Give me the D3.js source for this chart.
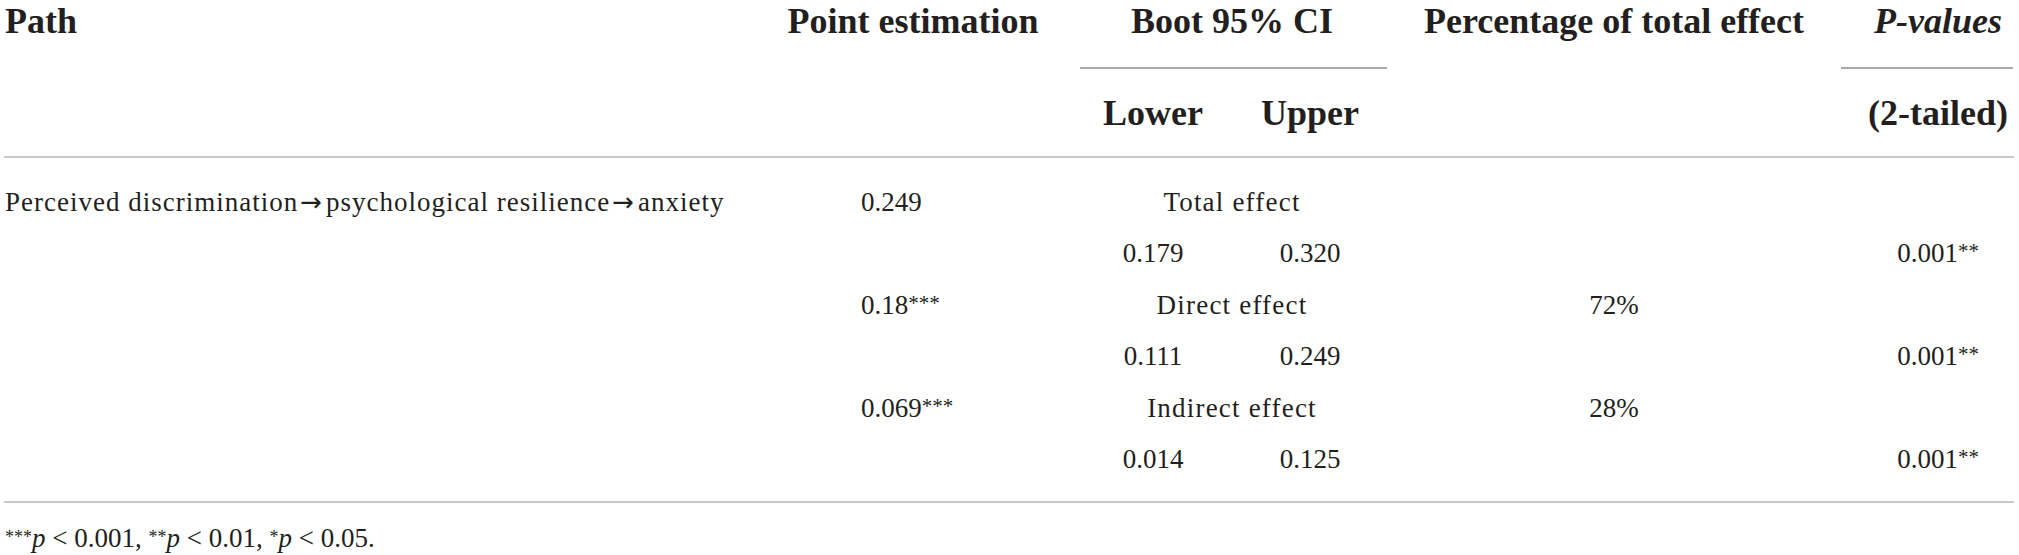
<!DOCTYPE html>
<html>
<head>
<meta charset="utf-8">
<script src="https://cdn.jsdelivr.net/npm/d3@7"></script>
<style>
  html, body { margin: 0; padding: 0; background: #fff; }
  svg { display: block; }
</style>
</head>
<body>
<div id="table-placeholder"></div>
<script>
'use strict'

// ---- table content ----
const pathSteps = ['Perceived discrimination', 'psychological resilience', 'anxiety']
const effects = ['Total effect', 'Direct effect', 'Indirect effect']
const pointEst = ['0.249', '0.18', '0.069']
const pointStars = ['', '***', '***']
const ciLower = ['0.179', '0.111', '0.014']
const ciUpper = ['0.320', '0.249', '0.125']
const pctTotal = ['', '72%', '28%']
const pValues = ['0.001', '0.001', '0.001']
const pStars = ['**', '**', '**']

const headTop = ['Path', 'Point estimation', 'Boot 95% CI', 'Percentage of total effect', 'P-values']
const headSub = ['Lower', 'Upper', '(2-tailed)']
const footNotes = [['***', '0.001'], ['**', '0.01'], ['*', '0.05']]

////////////////////////////////////
//////////// svg setup /////////////
////////////////////////////////////

const svgWidth = 2019
const svgHeight = 555
const ink = '#231f20'
const serif = '"Liberation Serif", "Times New Roman", serif'

const svg = d3.select('#table-placeholder').append('svg')
    .attr('width', svgWidth)
    .attr('height', svgHeight)
    .attr('viewBox', `0 0 ${svgWidth} ${svgHeight}`)

// column anchors (x)
const col = d3.scaleOrdinal()
    .domain(['path', 'pointHead', 'point', 'boot', 'lower', 'upper', 'pct', 'p'])
    .range([5, 913, 861, 1232, 1153, 1310, 1614, 1938])

// body lines: two per effect
const rowY = d3.scaleLinear().domain([0, 5]).range([211, 468])

// ---- rules ----
const rules = [
    {x1: 4, x2: 2014, y: 157, c: '#c8c8c8', w: 2},
    {x1: 4, x2: 2014, y: 502, c: '#c8c8c8', w: 2},
    {x1: 1080, x2: 1387, y: 68, c: '#8c8c8c', w: 1.5},
    {x1: 1841, x2: 2013, y: 68, c: '#8c8c8c', w: 1.5}
]
svg.selectAll('line.rule').data(rules).join('line')
    .attr('class', 'rule')
    .attr('x1', d => d.x1).attr('x2', d => d.x2)
    .attr('y1', d => d.y).attr('y2', d => d.y)
    .attr('stroke', d => d.c).attr('stroke-width', d => d.w)

// ---- header ----
const head = svg.append('g')
    .attr('font-family', serif)
    .attr('font-weight', 'bold')
    .attr('font-size', 36)
    .attr('fill', ink)

const topKeys = ['path', 'pointHead', 'boot', 'pct', 'p']
head.selectAll('text.top').data(headTop).join('text')
    .attr('class', 'top')
    .attr('x', (d, i) => col(topKeys[i]))
    .attr('y', 33)
    .attr('text-anchor', (d, i) => i === 0 ? 'start' : 'middle')
    .attr('font-style', (d, i) => i === 4 ? 'italic' : null)
    .text(d => d)

const subKeys = ['lower', 'upper', 'p']
head.selectAll('text.sub').data(headSub).join('text')
    .attr('class', 'sub')
    .attr('x', (d, i) => col(subKeys[i]))
    .attr('y', 125)
    .attr('text-anchor', 'middle')
    .text(d => d)

// ---- body ----
const body = svg.append('g')
    .attr('font-family', serif)
    .attr('font-size', 27)
    .attr('fill', ink)

const pathText = body.append('text')
    .attr('x', col('path'))
    .attr('y', rowY(0))
    .attr('letter-spacing', 1)

pathSteps.forEach((s, i) => {
    if (i > 0) {
        pathText.append('tspan')
            .attr('font-family', '"DejaVu Sans", sans-serif')
            .attr('font-size', 26)
            .attr('dx', 2)
            .attr('letter-spacing', 4)
            .text('\u2192')
    }
    pathText.append('tspan').text(s)
})

const withStars = (sel, stars) => {
    sel.append('tspan').text(d => d.v)
    sel.append('tspan')
        .attr('dy', -4)
        .attr('font-size', 21)
        .text(d => stars[d.i])
}

const eff = effects.map((e, i) => ({i, e}))

// effect label rows
body.selectAll('text.eff').data(eff).join('text')
    .attr('class', 'eff')
    .attr('x', col('boot'))
    .attr('y', d => rowY(d.i * 2))
    .attr('text-anchor', 'middle')
    .attr('letter-spacing', 1.2)
    .text(d => d.e)

body.selectAll('text.pt').data(pointEst.map((v, i) => ({i, v}))).join('text')
    .attr('class', 'pt')
    .attr('x', col('point'))
    .attr('y', d => rowY(d.i * 2))
    .call(withStars, pointStars)

body.selectAll('text.pct').data(pctTotal.map((v, i) => ({i, v}))).join('text')
    .attr('class', 'pct')
    .attr('x', col('pct'))
    .attr('y', d => rowY(d.i * 2))
    .attr('text-anchor', 'middle')
    .text(d => d.v)

// interval rows
body.selectAll('text.lo').data(ciLower.map((v, i) => ({i, v}))).join('text')
    .attr('class', 'lo')
    .attr('x', col('lower'))
    .attr('y', d => rowY(d.i * 2 + 1))
    .attr('text-anchor', 'middle')
    .text(d => d.v)

body.selectAll('text.up').data(ciUpper.map((v, i) => ({i, v}))).join('text')
    .attr('class', 'up')
    .attr('x', col('upper'))
    .attr('y', d => rowY(d.i * 2 + 1))
    .attr('text-anchor', 'middle')
    .text(d => d.v)

body.selectAll('text.pv').data(pValues.map((v, i) => ({i, v}))).join('text')
    .attr('class', 'pv')
    .attr('x', col('p'))
    .attr('y', d => rowY(d.i * 2 + 1))
    .attr('text-anchor', 'middle')
    .call(withStars, pStars)

// ---- footnote ----
const foot = body.append('text')
    .attr('x', col('path'))
    .attr('y', 547)

footNotes.forEach((n, i) => {
    foot.append('tspan').attr('dy', -4).attr('font-size', 18).text(n[0])
    foot.append('tspan').attr('dy', 4).attr('font-style', 'italic').text('p')
    foot.append('tspan').text(` < ${n[1]}` + (i < footNotes.length - 1 ? ', ' : '.'))
})
</script>
</body>
</html>
